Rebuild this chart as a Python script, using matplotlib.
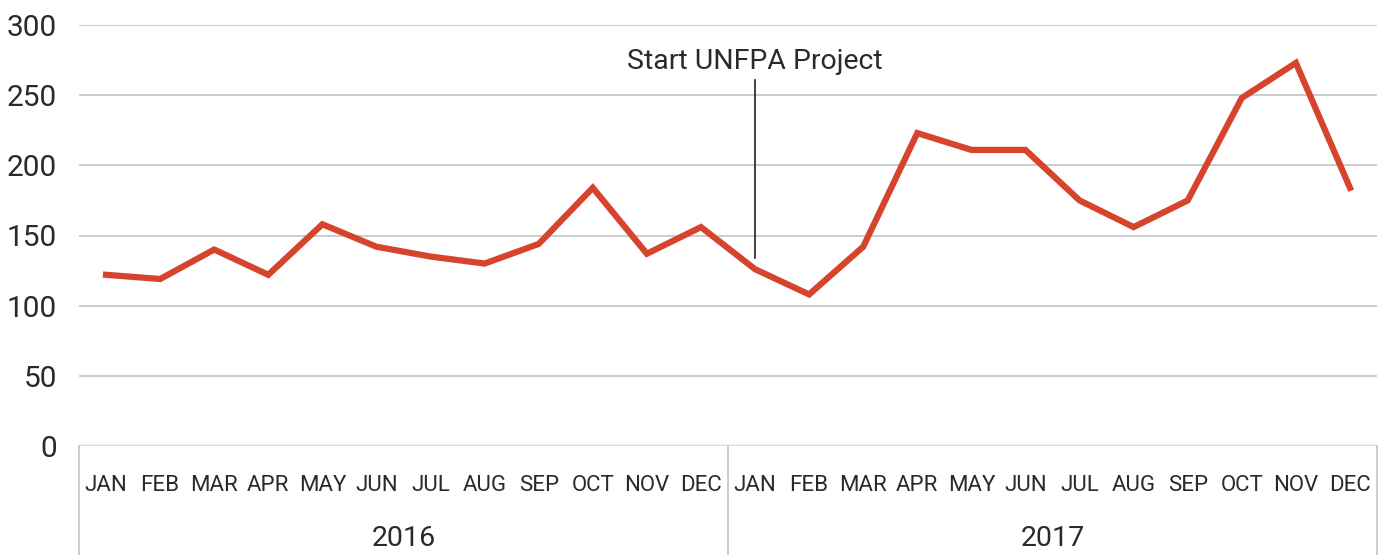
import matplotlib
matplotlib.use("Agg")
import matplotlib.pyplot as plt
import matplotlib.transforms as mtransforms
from matplotlib.lines import Line2D

months = ["JAN", "FEB", "MAR", "APR", "MAY", "JUN", "JUL", "AUG", "SEP", "OCT", "NOV", "DEC"]
years = ["2016", "2017"]
values = [122, 119, 140, 122, 158, 142, 135, 130, 144, 184, 137, 156,
          126, 108, 142, 223, 211, 211, 175, 156, 175, 248, 273, 184]
yticks = [0, 50, 100, 150, 200, 250, 300]
annotation_text = "Start UNFPA Project"
annotation_index = 12
annotation_range = [134, 261]

plt.rcParams['font.family'] = ['Roboto', 'DejaVu Sans']

W, H = 1388, 555
fig = plt.figure(figsize=(W / 100, H / 100), dpi=100)
left, right, top, bottom = 79, 1377, 25, 446
ax = fig.add_axes([left / W, 1 - bottom / H, (right - left) / W, (bottom - top) / H])

n = len(months) * len(years)
x = list(range(n))
ax.plot(x, values, color="#d6442e", lw=4.5, solid_joinstyle="miter", zorder=3)

txt = "#2a2a2a"
ax.set_xlim(-0.5, n - 0.5)
ax.set_ylim(0, 300)
ax.set_yticks(yticks)
ax.set_yticklabels([str(v) for v in yticks], fontsize=21.5, color=txt)
for v in yticks[1:]:
    ax.axhline(v, color="#c8c8c8", lw=1.3, zorder=1)
ax.axhline(0, color="#d9d9d9", lw=2.5, zorder=2)

for s in ax.spines.values():
    s.set_visible(False)
ax.tick_params(axis="y", length=0, pad=16)
ax.set_xticks(x)
ax.set_xticklabels(months * len(years), fontsize=16, color=txt)
ax.tick_params(axis="x", length=0, pad=21)

# year labels and separators
trans = mtransforms.blended_transform_factory(ax.transData, ax.transAxes)
for i, yr in enumerate(years):
    c = i * len(months) + (len(months) - 1) / 2
    ax.text(c, -0.22, yr, transform=trans, ha="center", va="center",
            fontsize=20.5, color=txt)
for b in range(len(years) + 1):
    xb = b * len(months) - 0.5
    ax.add_line(Line2D([xb, xb], [0, -0.27], transform=trans, color="#c8c8c8",
                       lw=1.3, clip_on=False))

# annotation
ax.plot([annotation_index, annotation_index], annotation_range, color="#222222", lw=1.2, zorder=4)
ax.text(annotation_index, 274, annotation_text, ha="center", va="center",
        fontsize=20.5, color=txt)

fig.savefig("out.png", dpi=100)
